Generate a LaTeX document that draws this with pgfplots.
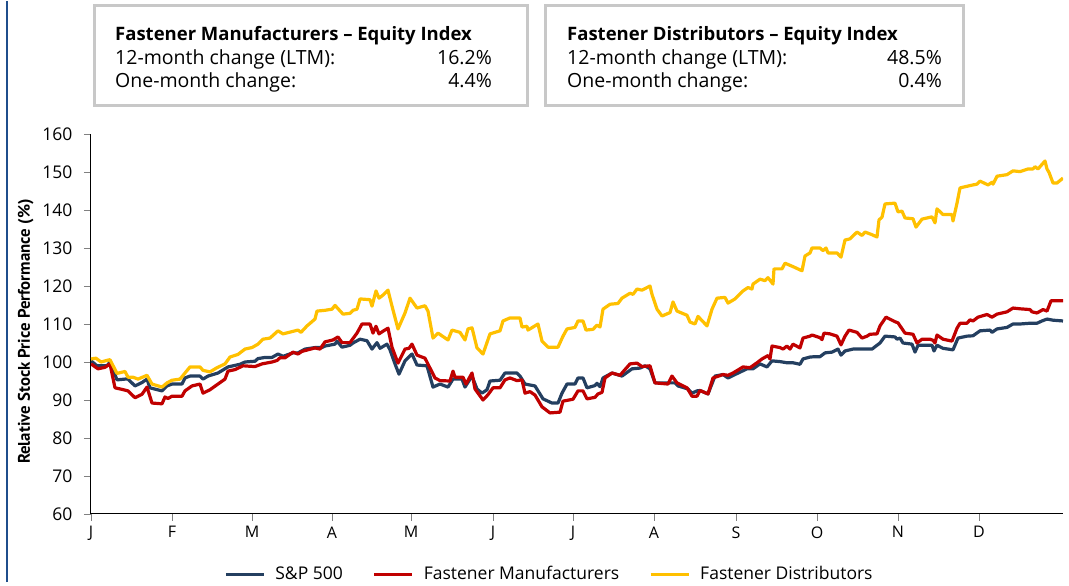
\documentclass[border=0pt]{standalone}
\usepackage{fontspec}
\setmainfont{Open Sans}
\newfontfamily\labelfont{PT Sans}
\usepackage{pgfplots}
\pgfplotsset{compat=1.18}
\definecolor{spblue}{HTML}{243F60}
\definecolor{fmred}{HTML}{C00000}
\definecolor{fdyellow}{HTML}{FFC000}
\definecolor{boxgray}{HTML}{C8C8C8}
\definecolor{edgeblue}{HTML}{1F4E8C}
\begin{document}
\begin{tikzpicture}[x=1pt,y=1pt]
\begin{scope}[shift={(-91,-68)}]
\path (0,0) rectangle (1069,581);
\draw[edgeblue,line width=2pt] (7,0) -- (7,581);
% info boxes
\draw[boxgray,line width=3pt] (95,476) rectangle (527,576);
\draw[boxgray,line width=3pt] (545,476) rectangle (963,576);
\node[anchor=base west,font=\fontsize{18.5}{20}\selectfont\bfseries,inner sep=0] at (115,541) {Fastener Manufacturers -- Equity Index};
\node[anchor=base west,font=\fontsize{19.5}{20}\selectfont,inner sep=0] at (115,517) {12-month change (LTM):};
\node[anchor=base east,font=\fontsize{19.5}{20}\selectfont,inner sep=0] at (492,517) {16.2\%};
\node[anchor=base west,font=\fontsize{19.5}{20}\selectfont,inner sep=0] at (115,494) {One-month change:};
\node[anchor=base east,font=\fontsize{19.5}{20}\selectfont,inner sep=0] at (492,494) {4.4\%};
\node[anchor=base west,font=\fontsize{18.5}{20}\selectfont\bfseries,inner sep=0] at (567,541) {Fastener Distributors -- Equity Index};
\node[anchor=base west,font=\fontsize{19.5}{20}\selectfont,inner sep=0] at (567,517) {12-month change (LTM):};
\node[anchor=base east,font=\fontsize{19.5}{20}\selectfont,inner sep=0] at (942,517) {48.5\%};
\node[anchor=base west,font=\fontsize{19.5}{20}\selectfont,inner sep=0] at (567,494) {One-month change:};
\node[anchor=base east,font=\fontsize{19.5}{20}\selectfont,inner sep=0] at (942,494) {0.4\%};
\end{scope}
\begin{axis}[
  scale only axis, width=972pt, height=380pt,
  xmin=91, xmax=1063, ymin=60, ymax=160,
  axis x line*=bottom, axis y line*=left,
  axis line style={black, line width=1pt},
  xtick={91,172,252,332,411,493,573,654,736,817,898,979},
  xticklabels={J,F,M,A,M,J,J,A,S,O,N,D},
  ytick={60,70,...,160},
  tick align=outside,
  x tick style={gray, line width=0.8pt},
  y tick style={gray, line width=0.8pt},
  major tick length=7pt,
  yticklabel style={font=\fontsize{17.5}{19}\selectfont, xshift=-8pt},
  xticklabel style={font=\fontsize{16}{18}\selectfont, yshift=-2pt},
  /pgf/number format/assume math mode=true,
  ylabel={\labelfont\bfseries Relative Stock Price Performance (\%)},
  ylabel style={font=\fontsize{16.8}{18}\selectfont, at={(ticklabel cs:0.48)}, anchor=south, yshift=2pt},
  legend columns=3,
  legend style={at={(0.4717,-0.158)}, anchor=center, draw=none, fill=none,
    font=\fontsize{17.5}{19}\selectfont,
    /tikz/every odd column/.append style={column sep=8pt},
    /tikz/every even column/.append style={column sep=28pt}},
  legend image code/.code={\draw[#1, line width=3pt] (0pt,0pt) -- (38pt,0pt);},
  every axis plot/.append style={line width=3.2pt, line join=round},
]
\addplot[spblue] coordinates {
(91,100.3)(97,99)(107,99)(110,100)(117,95.3)(125,95.5)(128,95.5)(135,93.7)(142,94.6)(147,95.5)
(150,93.2)(162,92.4)(167,93.7)(172,94.2)(182,94.2)(185,95.8)(190,96.3)(200,96.3)(203,95.5)(208,96.3)
(218,97.1)(228,98.7)(240,99.4)(245,100)(255,100.2)(258,100.9)(265,101.2)(272,101.2)(278,102.1)(283,101.5)
(293,102.4)(298,102.4)(305,103.4)(315,103.8)(322,103.8)(325,104.2)(335,104.7)(337,105.5)(342,103.9)(350,104.4)
(353,105)(360,106)(367,105.6)(372,103.4)(377,105.1)(380,103.6)(387,104.7)(390,103.2)(395,99.5)(399,96.8)
(405,100.3)(412,102.1)(417,99.2)(427,99)(433,93.4)(440,94.2)(448,93.4)(453,95.5)(462,95.5)(465,93.4)
(472,96.3)(477,92.9)(482,91.8)(487,92.7)(490,95)(500,95.2)(505,97.1)(517,97.1)(520,96.3)(525,94.2)
(535,93.7)(543,90.3)(552,89.2)(558,89.2)(562,91.8)(567,94.2)(575,94.2)(578,95.8)(583,95.8)(587,93.2)
(595,93.8)(597,94.4)(600,93.5)(603,95.8)(612,97.1)(622,96.3)(632,98.2)(640,98.4)(645,99)(650,98.2)
(655,94.5)(670,94.5)(675,94.5)(678,93.7)(688,92.9)(692,91.8)(697,92.4)(700,92.5)(708,91.6)(715,96.3)
(723,96.7)(728,95.8)(735,96.7)(747,98.2)(753,98.2)(760,99.5)(767,98.7)(772,100.3)(780,100.1)(787,99.8)
(793,99.8)(800,99.4)(803,100.8)(810,101.3)(815,101.4)(820,101.4)(825,102.4)(832,102.6)(838,103.4)(841,101.8)
(845,102.9)(853,103.4)(862,103.4)(872,103.4)(875,104)(880,105)(885,106.8)(895,106.6)(897,106)(900,106.3)
(903,105)(912,104.7)(915,102.6)(918,104.4)(928,104.4)(932,104.4)(934,102.9)(937,104.4)(943,103.6)(953,103.2)
(958,106.3)(967,106.8)(973,106.9)(980,108.2)(990,108.4)(992,107.8)(997,108.7)(1007,109.1)(1013,110)(1020,110)
(1030,110.2)(1037,110.2)(1042,110.8)(1047,111.3)(1053,111)(1063,110.8)
};
\addlegendentry{S\&P 500}
\addplot[fmred] coordinates {
(91,99.5)(98,98.2)(105,98.6)(110,99.5)(115,93.2)(122,92.8)(128,92.4)(135,90.6)(142,91.5)(147,93.4)
(152,89.2)(162,89)(165,90.8)(168,90.4)(172,91)(182,91)(185,92.4)(192,93.7)(200,94.2)(203,91.8)
(210,92.7)(218,94.2)(225,95.5)(228,97.6)(235,98)(243,99)(255,98.8)(262,99.5)(272,100)(277,100.4)
(280,101.1)(285,101.1)(293,102.6)(298,102.1)(302,102.8)(315,103.7)(320,103.4)(325,105.3)(333,105.8)(338,106.6)
(342,105.1)(350,105.1)(357,107.6)(362,110)(370,110)(373,107.6)(376,109.4)(379,107.4)(383,108.1)(388,108.9)
(392,103.9)(398,99.7)(405,103.4)(409,103.6)(412,104.7)(417,101.8)(425,101)(430,98.4)(435,95.8)(440,95.1)
(450,95)(453,97.6)(455,96)(463,96)(466,94.2)(472,97.1)(475,92.9)(483,90)(488,91.4)(493,93.2)
(500,93.2)(505,95.3)(510,95.8)(517,95.1)(522,95.3)(525,91.8)(530,92.2)(535,91.3)(542,88.2)(550,86.6)
(560,86.8)(563,89.7)(573,90.2)(578,92.4)(583,92.4)(587,90.3)(595,90.7)(598,91.6)(602,92)(605,95.8)
(612,97.1)(620,96.5)(630,99.5)(637,99.7)(642,98.8)(650,99)(655,94.5)(668,94.2)(672,96.3)(677,94.5)
(687,93.2)(692,91)(697,91)(700,92.5)(708,91.6)(713,95.8)(723,96.7)(728,96.5)(733,97.1)(743,98.7)
(750,98.5)(757,99.8)(762,100.8)(768,101.7)(770,100.8)(772,104.2)(780,103.8)(783,103.4)(787,104.2)(790,103.4)
(793,104.7)(800,103.7)(803,106.3)(810,106.8)(812,107.1)(820,106.4)(822,105.9)(824,107.6)(830,107.4)(837,106.8)
(841,104.5)(845,106.8)(849,108.4)(857,107.8)(862,106.3)(867,106.8)(870,107.3)(877,107.4)(880,109.5)(886,111.8)
(895,110.6)(898,110.3)(905,107.6)(913,107.3)(917,105)(922,106)(930,106)(933,105.7)(935,105)(937,107.1)
(943,106)(952,105.5)(957,108.9)(960,110.2)(967,110.2)(970,111.1)(973,110.8)(978,111.8)(987,112.5)(992,111.8)
(997,112.6)(1007,113.2)(1013,114.2)(1020,114)(1030,113.8)(1032,113.2)(1037,112.9)(1043,113.8)(1047,113.4)(1051,116.1)
(1063,116.1)
};
\addlegendentry{Fastener Manufacturers}
\addplot[fdyellow] coordinates {
(91,100.8)(96,101)(101,100)(108,100.5)(110,100.6)(117,97)(125,97.5)(128,96)(133,96)(138,95.5)
(147,96.5)(152,94.2)(162,93.4)(167,94.5)(172,95.2)(180,95.5)(185,97.1)(190,98.7)(200,98.7)(203,97.8)
(210,97.4)(217,98.5)(225,99.5)(230,101.3)(238,102)(245,103.4)(252,103.8)(258,104.7)(263,106)(270,106.3)
(278,108.2)(283,107.4)(292,108)(298,108.4)(301,107.8)(307,109.5)(315,111.3)(317,113.4)(325,113.6)(332,113.9)
(335,114.9)(343,112.6)(350,112.8)(353,113.6)(357,113.9)(360,116.6)(370,116.4)(372,114.7)(376,118.7)(379,116.8)
(383,117.6)(388,118.9)(392,114.7)(398,108.7)(405,112.9)(410,116.8)(417,114.2)(425,114.8)(428,113.4)(433,106.3)
(438,107.6)(448,105.8)(452,108.4)(460,107.8)(465,105.8)(468,108.7)(472,109)(477,103.7)(483,102.1)(490,107.4)
(500,108.2)(503,110.8)(510,111.6)(520,111.6)(522,109.2)(527,109.4)(528,108.4)(538,110)(542,105.5)(548,103.9)
(558,103.9)(563,106.8)(567,108.7)(575,109.1)(578,110.8)(583,110.8)(586,108.4)(593,108.6)(597,109.7)(600,109.2)
(603,113.9)(610,115.2)(618,115.4)(622,116.8)(630,118.1)(633,117.8)(637,119.2)(642,118.9)(650,120)(652,117.8)
(657,113.9)(662,112.1)(670,113)(673,115.8)(677,113.4)(687,112.3)(690,110.5)(695,110)(698,112)(707,109.5)
(712,113.9)(717,116.8)(725,117)(728,115.5)(735,116.6)(743,118.7)(748,119.6)(752,119.2)(753,120.5)(760,121.8)
(765,121.4)(768,122.2)(773,120.5)(774,124.5)(782,124.5)(785,126)(793,125.1)(802,124)(805,127.9)(810,128.7)
(812,130)(820,130)(823,129.3)(826,130)(828,128.7)(837,128.7)(841,127.6)(845,132.1)(850,132.4)(857,134.2)
(862,133.3)(865,134.2)(872,133.5)(877,132.9)(879,137.4)(882,138.1)(885,141.6)(895,141.8)(898,139.5)(902,139.7)
(905,137.9)(913,137.7)(916,135.5)(922,137.6)(932,138.2)(935,136.6)(937,140.3)(943,138.8)(952,138.8)(953,137.1)
(957,141.8)(960,145.8)(963,146)(973,146.6)(977,146.8)(980,147.6)(988,146.6)(992,147.3)(993,146.8)(997,148.9)
(1007,149.3)(1013,150.3)(1020,150.1)(1028,150.8)(1033,150.8)(1035,151.4)(1038,150.8)(1045,152.9)(1047,150.8)(1049,149.9)
(1053,147.1)(1057,147.1)(1063,148.4)
};
\addlegendentry{Fastener Distributors}
\end{axis}
\end{tikzpicture}
\end{document}
